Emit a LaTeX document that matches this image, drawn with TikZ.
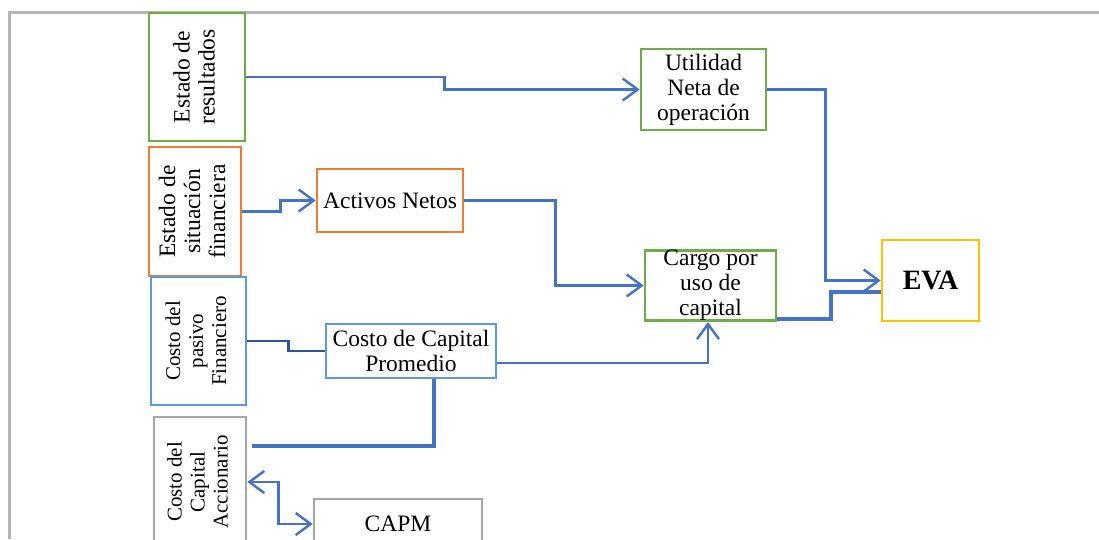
\documentclass[tikz,border=0pt]{standalone}
\usepackage{fontspec}
\setmainfont{Liberation Serif}
\usetikzlibrary{arrows.meta}

\definecolor{cgreen}{HTML}{70AD47}
\definecolor{corange}{HTML}{ED7D31}
\definecolor{clblue}{HTML}{5B9BD5}
\definecolor{cgray}{HTML}{A5A5A5}
\definecolor{cgold}{HTML}{FFC000}
\definecolor{cblue}{HTML}{4472C4}
\definecolor{cdblue}{HTML}{2F5597}
\definecolor{cframe}{HTML}{B4B4B4}

% vertical (rotated) multi-line label
\newcommand\vlabel[1]{\rotatebox{90}{\begin{tabular}{@{}c@{}}#1\end{tabular}}}

\tikzset{
  box/.style={draw, line width=2.6pt, inner sep=0pt, align=center, fill=white,
              font=\fontsize{23.5}{25}\selectfont},
  smallbox/.style={box, font=\fontsize{21}{23}\selectfont},
  conn/.style={draw=cblue, line width=2.4pt},
  thickconn/.style={draw=cblue, line width=4pt},
  barb/.style={Straight Barb[length=15pt,width=22pt,line width=2.4pt]},
  arrowto/.style={-{Straight Barb[length=15pt,width=22pt,line width=2.4pt]}},
  arrowboth/.style={{Straight Barb[length=15pt,width=22pt,line width=2.4pt]}-{Straight Barb[length=15pt,width=22pt,line width=2.4pt]}}
}

\begin{document}
\begin{tikzpicture}[x=1pt,y=-1pt]
\useasboundingbox (0,0) rectangle (1099,539);
\clip (0,0) rectangle (1099,539);
\fill[white] (0,0) rectangle (1099,539);

% frame
\draw[cframe, line width=2.4pt] (9.5,539) -- (9.5,12.5) -- (1099,12.5);

% left column of sources
\node[box, draw=cgreen, minimum width=96pt, minimum height=128pt] (res) at (197,77)
  {\vlabel{Estado de\\resultados}};
\node[box, draw=corange, minimum width=92pt, minimum height=129pt] (esf) at (195,211.5)
  {\vlabel{Estado de\\situación\\financiera}};
\node[smallbox, draw=clblue, minimum width=95pt, minimum height=128pt] (cpf) at (198.5,341)
  {\vlabel{Costo del\\pasivo\\Financiero}};
\node[smallbox, draw=cgray, minimum width=92pt, minimum height=130pt] (cca) at (200,482)
  {\vlabel{Costo del\\Capital\\Accionario}};

% intermediate boxes
\node[box, draw=corange, minimum width=146pt, minimum height=63pt] (an) at (390,200.5)
  {Activos Netos};
\node[box, draw=clblue, minimum width=170pt, minimum height=54pt] (ccp) at (411,351)
  {Costo de Capital\\Promedio};
\node[box, draw=cgray, minimum width=168pt, minimum height=50pt] (capm) at (398,524)
  {CAPM};
\node[box, draw=cgreen, minimum width=125pt, minimum height=81pt] (util) at (703.5,89.5)
  {Utilidad\\Neta de\\operación};
\node[box, draw=cgreen, minimum width=131pt, minimum height=69pt] (cargo) at (710.5,285.5)
  {Cargo por\\uso de\\capital};
\node[box, draw=cgold, minimum width=97pt, minimum height=81pt,
      font=\fontsize{28}{30}\selectfont\bfseries] (eva) at (930.5,280.5) {EVA};

% connectors
\draw[conn, arrowto] (res.east) -- ++(198,0) |- (util.west);
\draw[conn, arrowto] (util.east) -- ++(58,0) |- (eva.west);
\draw[conn, arrowto] (esf.east) -- ++(38,0) |- (an.west);
\draw[conn, arrowto] (an.east) -- ++(91,0) |- (cargo.west);
\draw[draw=cdblue, line width=2.8pt] (cpf.east) -- ++(41,0) |- (ccp.west);
\draw[conn, arrowto] ([yshift=-12pt]ccp.east) -| ([xshift=-2.5pt]cargo.south);
\draw[thickconn] ([shift={(5pt,36pt)}]cca.east) -| ([xshift=23pt]ccp.south);
\draw[conn, arrowboth] (cca.east) -- ++(31,0) |- (capm.west);
\draw[thickconn] ([yshift=-33.5pt]cargo.east) -- ++(54,0) |- ([yshift=-11.5pt]eva.west);
\end{tikzpicture}
\end{document}
